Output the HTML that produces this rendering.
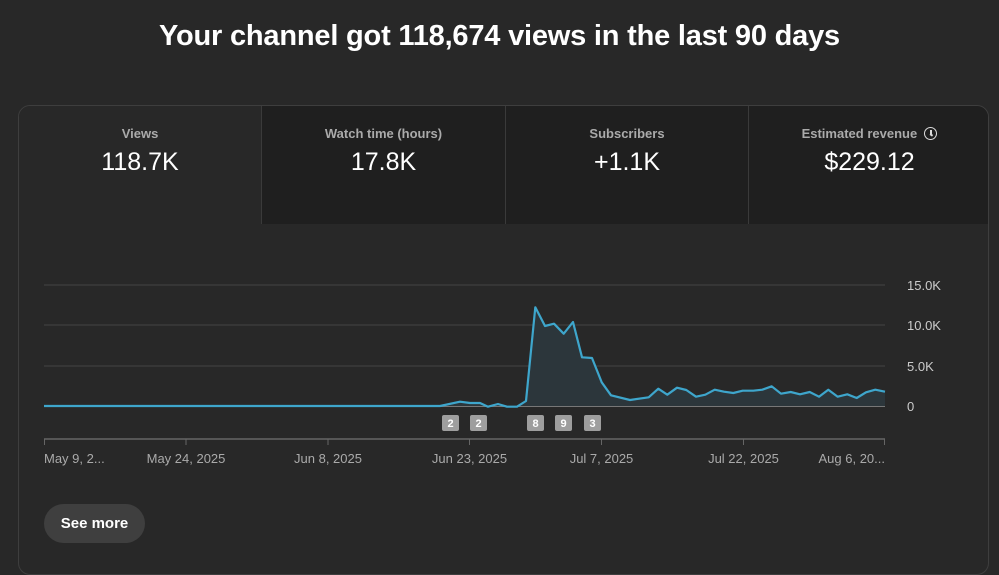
<!DOCTYPE html>
<html><head><meta charset="utf-8"><style>
body{margin:0;width:999px;height:553px;background:#282828;overflow:hidden;font-family:"Liberation Sans",sans-serif;position:relative}
h1{position:absolute;top:20px;left:0;width:999px;text-align:center;margin:0;color:#fff;font-size:29px;font-weight:bold;letter-spacing:-0.2px}
.card{position:absolute;left:18px;top:105px;width:971px;height:470px;border:1px solid #3e3e3e;border-radius:12px;overflow:hidden;box-sizing:border-box;background:#282828}
.tab{position:absolute;top:0;height:118px;background:#1f1f1f;text-align:center;box-sizing:border-box}
.tab .l{margin-top:20px;color:#aaa;font-size:13px;font-weight:bold}
.tab .v{margin-top:7px;color:#fff;font-size:25px}
.btn{position:absolute;left:44px;top:504px;width:101px;height:39px;border-radius:20px;background:#3f3f3f;color:#fff;font-weight:bold;font-size:15px;line-height:39px;text-align:center}
</style></head><body>
<h1>Your channel got 118,674 views in the last 90 days</h1>
<div class="card">
<div class="tab" style="left:0;width:242px;background:#282828"><div class="l">Views</div><div class="v">118.7K</div></div>
<div class="tab" style="left:242px;width:244px;border-left:1px solid #3a3a3a"><div class="l">Watch time (hours)</div><div class="v">17.8K</div></div>
<div class="tab" style="left:486px;width:243px;border-left:1px solid #3a3a3a"><div class="l">Subscribers</div><div class="v">+1.1K</div></div>
<div class="tab" style="left:729px;width:242px;border-left:1px solid #3a3a3a"><div class="l">Estimated revenue &nbsp;<span style="display:inline-block;width:11px;height:11px;border:1.5px solid #ddd;border-radius:50%;vertical-align:-2px;position:relative"><span style="position:absolute;left:5px;top:2px;width:1.5px;height:4px;background:#ddd"></span><span style="position:absolute;left:5px;top:5.5px;width:3px;height:1.5px;background:#ddd;transform:rotate(35deg)"></span></span></div><div class="v">$229.12</div></div>
</div>
<svg style="position:absolute;left:0;top:0" width="999" height="553" font-family="Liberation Sans, sans-serif">
<g stroke="#3a3a3a" stroke-width="1.5"><line x1="44" y1="285" x2="885" y2="285"/><line x1="44" y1="325" x2="885" y2="325"/><line x1="44" y1="366" x2="885" y2="366"/></g>
<line x1="44" y1="406.5" x2="885" y2="406.5" stroke="#777" stroke-width="1"/>
<g fill="#ccc" font-size="13"><text x="907" y="290">15.0K</text><text x="907" y="330">10.0K</text><text x="907" y="371">5.0K</text><text x="907" y="411">0</text></g>
<polygon fill="#2c363b" points="440,406 460,401.7 470,403 480,403 488,406.7 498,404 507,406.7 517,406.7 526,401 535.3,307.3 545,326 554,323.7 563.7,333.7 573,322 582,357.3 592,358 601.7,382.3 611,395.3 630,400 648.7,397.3 658.3,388.7 667.3,394.7 677,387.7 686.3,390 696,396.7 705.3,394.7 714.7,389.7 724,391.7 733.3,393 742.7,390.7 753.3,390.7 762.3,389.7 771.7,386.3 781,393.7 790.7,392 800,394.3 809.7,392 819,396.7 828.3,389.7 837.7,396.7 847.3,394.3 856.7,398 866,392.3 875.3,389.7 885,391.7 885,406"/>
<polyline fill="none" stroke="#3ea6cc" stroke-width="2.2" stroke-linejoin="round" points="44,406 440,406 460,401.7 470,403 480,403 488,406.7 498,404 507,406.7 517,406.7 526,401 535.3,307.3 545,326 554,323.7 563.7,333.7 573,322 582,357.3 592,358 601.7,382.3 611,395.3 630,400 648.7,397.3 658.3,388.7 667.3,394.7 677,387.7 686.3,390 696,396.7 705.3,394.7 714.7,389.7 724,391.7 733.3,393 742.7,390.7 753.3,390.7 762.3,389.7 771.7,386.3 781,393.7 790.7,392 800,394.3 809.7,392 819,396.7 828.3,389.7 837.7,396.7 847.3,394.3 856.7,398 866,392.3 875.3,389.7 885,391.7"/>
<g fill="#9e9e9e"><rect x="442" y="415" width="17" height="16" rx="2"/><rect x="470" y="415" width="17" height="16" rx="2"/><rect x="527" y="415" width="17" height="16" rx="2"/><rect x="555" y="415" width="17" height="16" rx="2"/><rect x="584" y="415" width="17" height="16" rx="2"/></g>
<g fill="#fff" font-size="11" font-weight="bold" text-anchor="middle"><text x="450.5" y="427">2</text><text x="478.5" y="427">2</text><text x="535.5" y="427">8</text><text x="563.5" y="427">9</text><text x="592.5" y="427">3</text></g>
<line x1="44" y1="439" x2="885" y2="439" stroke="#666" stroke-width="1.5"/>
<g stroke="#666"><line x1="44.5" y1="439" x2="44.5" y2="445"/><line x1="186" y1="439" x2="186" y2="445"/><line x1="328" y1="439" x2="328" y2="445"/><line x1="469.5" y1="439" x2="469.5" y2="445"/><line x1="601.5" y1="439" x2="601.5" y2="445"/><line x1="743.5" y1="439" x2="743.5" y2="445"/><line x1="884.5" y1="439" x2="884.5" y2="445"/></g>
<g fill="#aaa" font-size="13" text-anchor="middle"><text x="44" y="463" text-anchor="start">May 9, 2...</text><text x="186" y="463">May 24, 2025</text><text x="328" y="463">Jun 8, 2025</text><text x="469.5" y="463">Jun 23, 2025</text><text x="601.5" y="463">Jul 7, 2025</text><text x="743.5" y="463">Jul 22, 2025</text><text x="885" y="463" text-anchor="end">Aug 6, 20...</text></g>
</svg>
<div class="btn">See more</div>
</body></html>
